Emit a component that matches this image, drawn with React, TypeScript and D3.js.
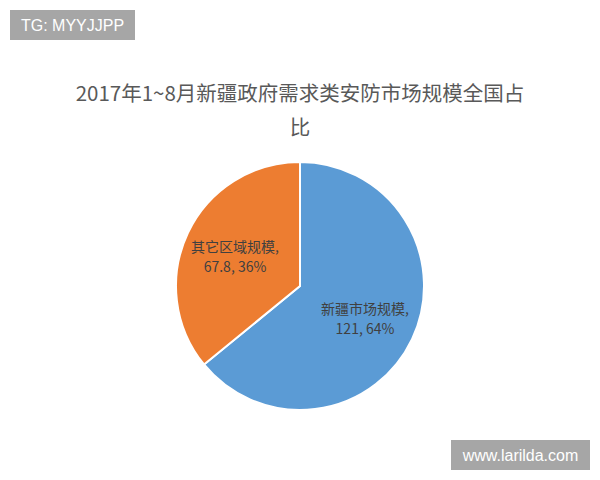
import React from "react";
import * as d3 from "d3";

const categories = ["新疆市场规模", "其它区域规模"];
const values = [121, 67.8];
const percents = ["64%", "36%"];
const colors = ["#5B9BD5", "#ED7D31"];
const titleLines = ["2017年1~8月新疆政府需求类安防市场规模全国占", "比"];
const watermarks = ["TG: MYYJJPP", "www.larilda.com"];

export default function App() {
  const W = 600, H = 480;
  const cx = 300, cy = 286, r = 124;
  const pie = d3.pie<number>().sort(null).value((d) => d)(values);
  const arc = d3.arc<d3.PieArcDatum<number>>().innerRadius(0).outerRadius(r);
  const labelArc = d3.arc<d3.PieArcDatum<number>>().innerRadius(r * 0.58).outerRadius(r * 0.58);
  const font = "'Noto Sans CJK SC', 'Noto Sans', sans-serif";
  return (
    <svg width={W} height={H} style={{ position: "fixed", left: 0, top: 0, background: "#fff" }}>
      <rect x={0} y={0} width={W} height={H} fill="#fff" />
      {titleLines.map((t, i) => (
        <text key={i} x={300} y={101 + i * 34} textAnchor="middle" fontSize={20.5} fill="#595959" fontFamily={font}>
          {t}
        </text>
      ))}
      <g transform={`translate(${cx},${cy})`}>
        {pie.map((p, i) => (
          <path key={i} d={arc(p) || ""} fill={colors[i]} stroke="#fff" strokeWidth={2} strokeLinejoin="round" />
        ))}
        {pie.map((p, i) => {
          const [lx, ly] = labelArc.centroid(p);
          return (
            <text key={"l" + i} x={lx} y={ly} textAnchor="middle" fontSize={14} fill="#404040" fontFamily={font}>
              <tspan x={lx} dy={-3}>{categories[i]},</tspan>
              <tspan x={lx} dy={20}>{`${values[i]}, ${percents[i]}`}</tspan>
            </text>
          );
        })}
      </g>
      <rect x={10} y={10} width={125} height={30} fill="#A6A6A6" />
      <text x={72.5} y={31} textAnchor="middle" fontSize={16} fill="#fff" fontFamily="'Liberation Sans', Arial, sans-serif">
        {watermarks[0]}
      </text>
      <rect x={451} y={440} width={139} height={30} fill="#A6A6A6" />
      <text x={520.5} y={461} textAnchor="middle" fontSize={16} fill="#fff" fontFamily="'Liberation Sans', Arial, sans-serif">
        {watermarks[1]}
      </text>
    </svg>
  );
}
